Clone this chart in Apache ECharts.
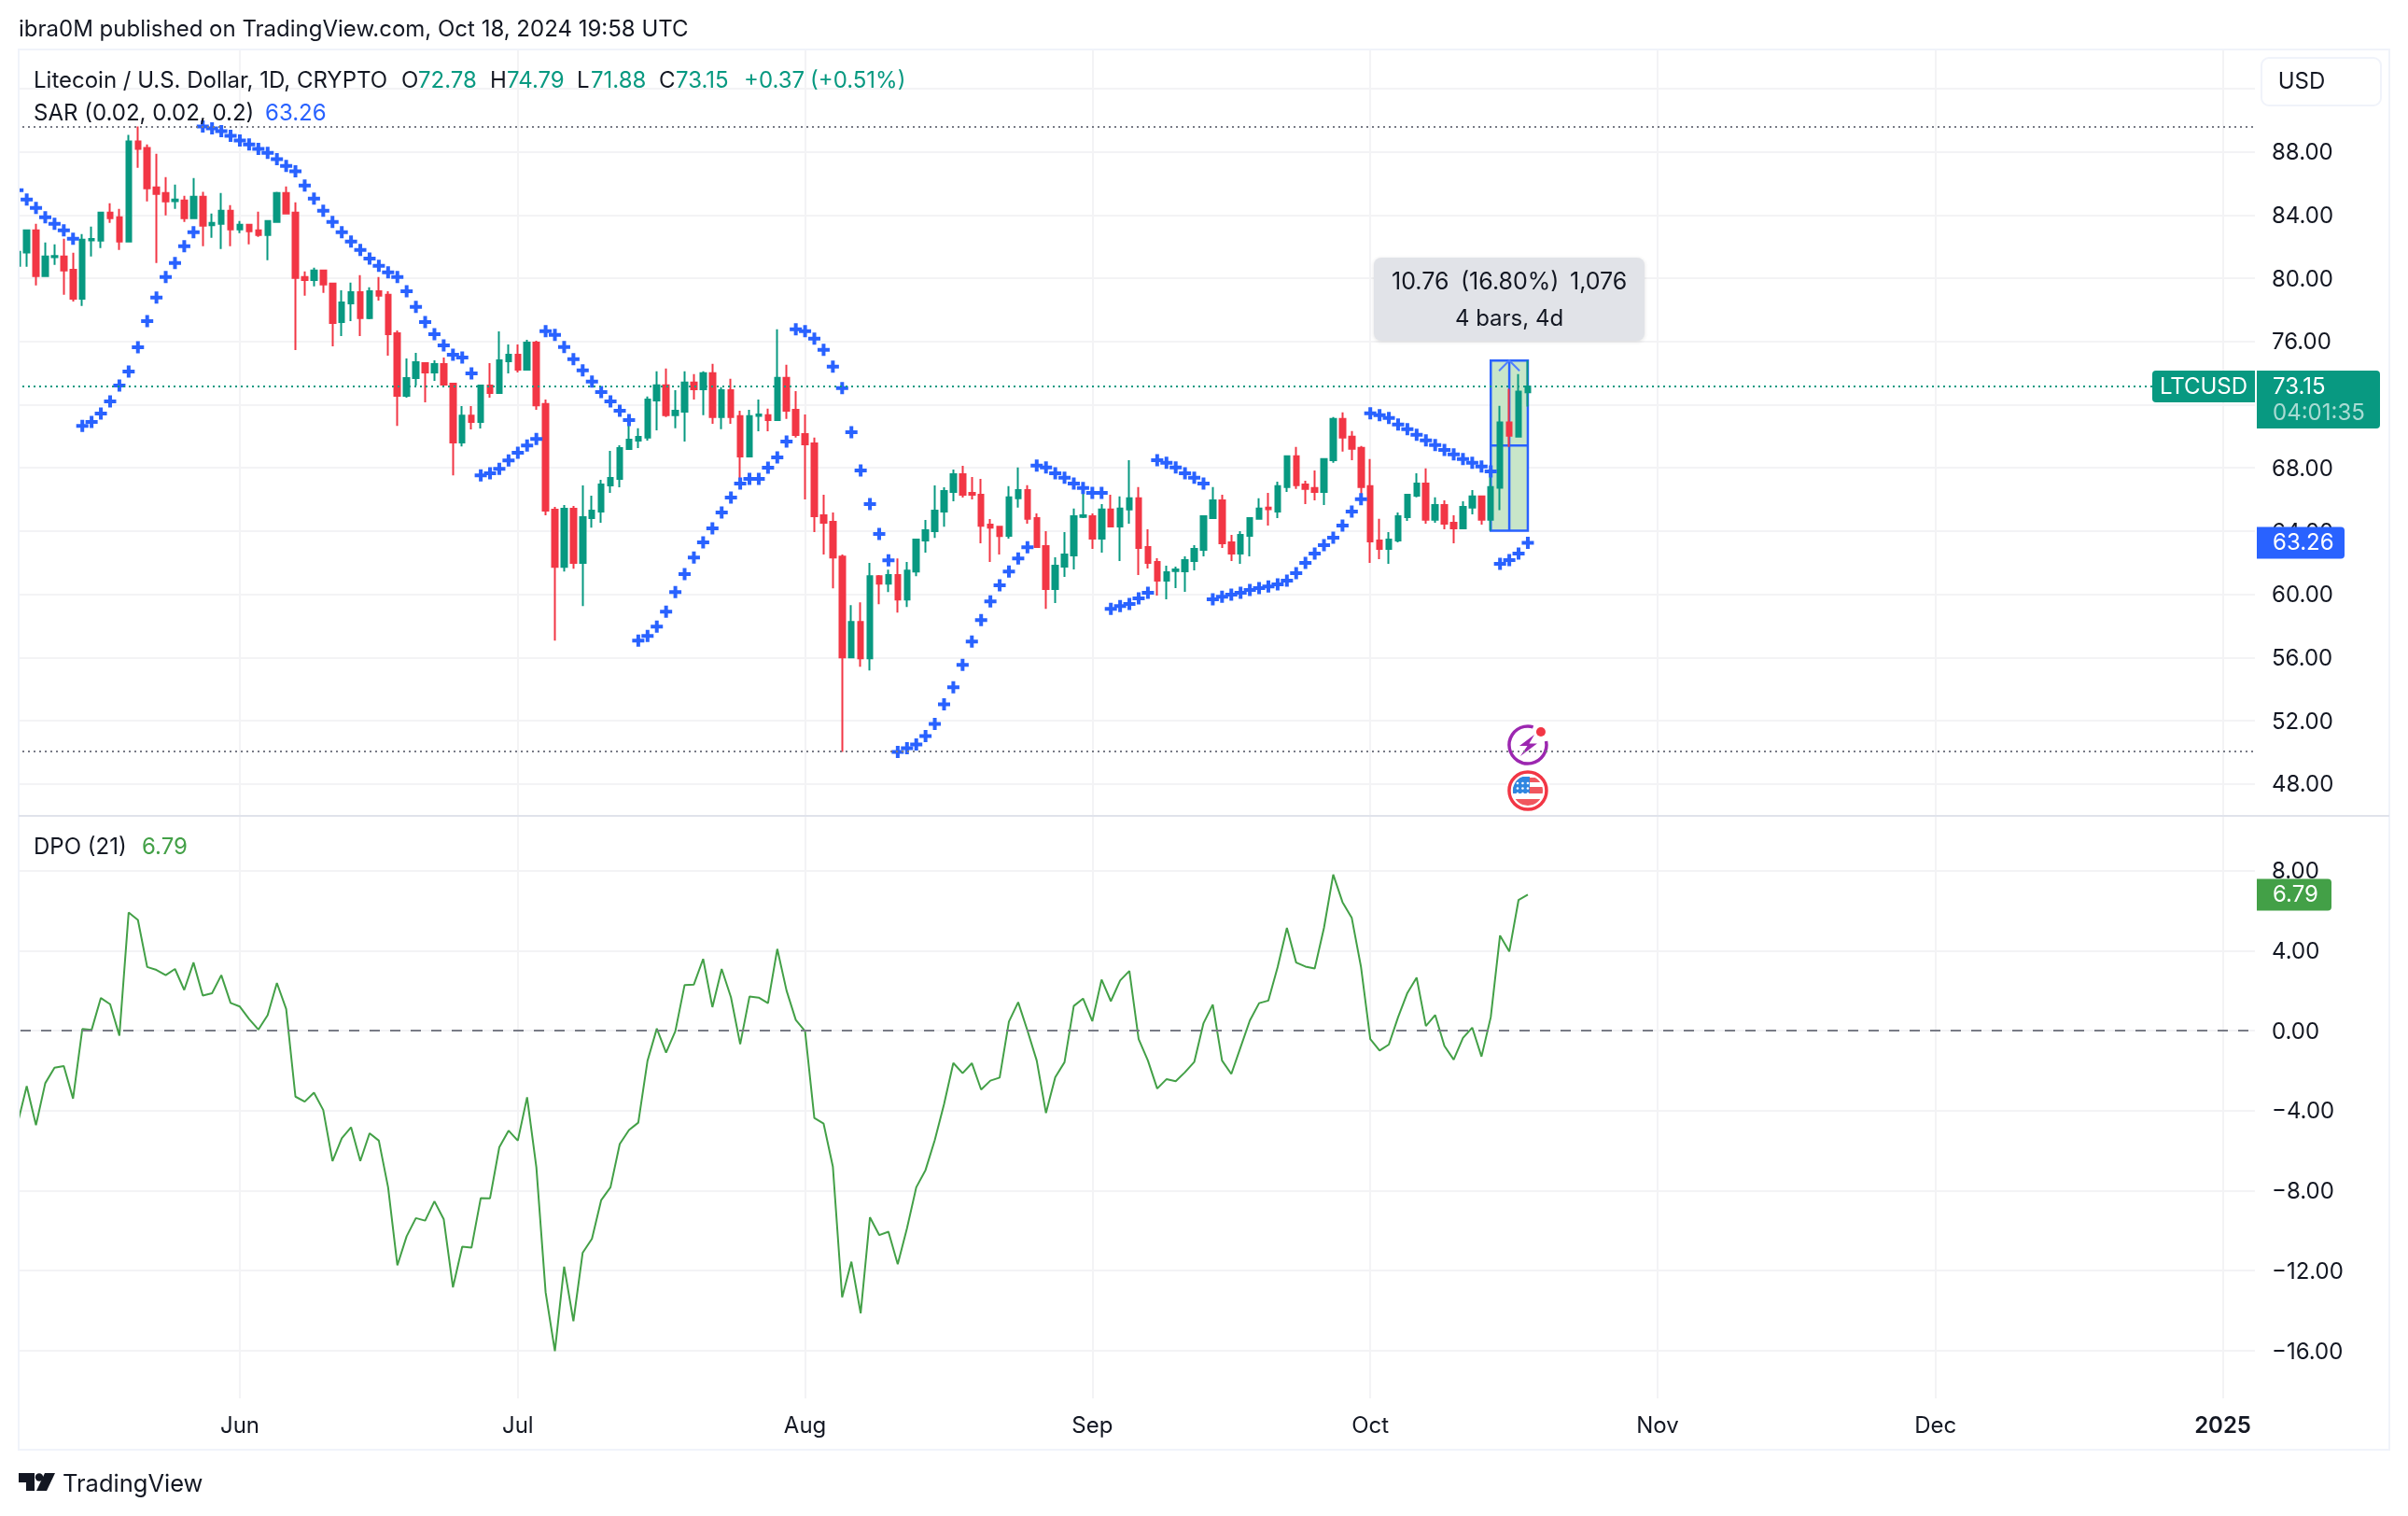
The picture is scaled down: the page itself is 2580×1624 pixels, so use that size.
<!DOCTYPE html>
<html>
<head>
<meta charset="utf-8">
<title>LTCUSD</title>
<script src="https://cdn.jsdelivr.net/npm/echarts@6/dist/echarts.min.js"></script>
<style>
  html, body { margin: 0; padding: 0; background: #fff; }
  #main { width: 2580px; height: 1624px; }
</style>
</head>
<body>
<div id="main"></div>
<script>
// daily bars, index 0 = 2024-05-08, last index 163 = 2024-10-18
const opens = [
  80.78, 81.63, 83.03, 80.13, 81.33, 81.37, 80.54, 78.71, 82.40, 82.38,
  84.15, 83.86, 82.32, 88.65, 88.24, 85.75, 85.40, 84.88, 84.92, 83.80,
  85.16, 83.35, 83.44, 84.27, 83.09, 83.38, 83.03, 82.73, 83.56, 85.40,
  84.15, 80.07, 79.89, 80.49, 79.66, 77.23, 78.41, 79.12, 77.47, 79.18,
  78.95, 76.52, 72.56, 73.68, 74.63, 74.04, 74.57, 73.33, 69.60, 71.31,
  70.90, 73.21, 72.73, 74.75, 75.16, 74.21, 75.93, 72.04, 65.35, 61.74,
  65.41, 61.98, 64.82, 65.23, 66.89, 67.30, 69.19, 69.73, 69.91, 72.27,
  73.22, 71.33, 71.56, 73.40, 72.98, 73.99, 71.21, 72.92, 71.27, 68.72,
  71.29, 71.33, 71.03, 73.69, 71.68, 70.14, 69.55, 65.00, 64.58, 62.39,
  56.00, 58.25, 55.94, 61.15, 60.67, 61.21, 59.67, 61.44, 63.40, 63.99,
  65.23, 66.47, 67.60, 66.41, 66.30, 64.40, 64.28, 63.70, 66.07, 66.60,
  64.82, 63.05, 60.33, 61.75, 62.46, 64.90, 64.94, 63.52, 65.36, 64.29,
  65.36, 66.07, 62.99, 62.04, 60.86, 61.47, 61.45, 62.10, 62.81, 64.82,
  65.95, 63.29, 62.58, 63.70, 64.77, 65.48, 65.24, 66.78, 68.73, 66.95,
  66.72, 66.48, 68.49, 71.10, 69.97, 69.26, 66.84, 63.40, 62.87, 63.40,
  64.88, 66.24, 67.01, 64.71, 65.65, 64.53, 64.17, 65.48, 66.19, 64.71,
  66.74, 70.87, 69.98, 72.78
];
const closes = [
  81.67, 83.03, 80.13, 81.37, 81.41, 80.49, 78.71, 82.44, 82.48, 84.15,
  83.80, 82.32, 88.65, 88.18, 85.69, 85.34, 84.86, 84.98, 83.80, 85.16,
  83.33, 83.50, 84.27, 83.09, 83.38, 82.97, 82.73, 83.62, 85.40, 84.09,
  80.01, 79.89, 80.49, 79.60, 77.17, 78.47, 79.12, 77.47, 79.18, 78.89,
  76.46, 72.56, 73.68, 74.69, 74.04, 74.57, 73.27, 69.60, 71.31, 70.90,
  73.21, 72.73, 74.80, 75.16, 74.21, 75.93, 71.96, 65.29, 61.74, 65.41,
  61.98, 64.88, 65.29, 66.95, 67.36, 69.25, 69.79, 69.96, 72.33, 73.22,
  71.33, 71.62, 73.40, 72.98, 73.99, 71.21, 72.92, 71.21, 68.72, 71.27,
  71.38, 71.03, 73.69, 71.62, 70.08, 69.49, 64.94, 64.52, 62.33, 56.00,
  58.25, 55.94, 61.15, 60.67, 61.21, 59.67, 61.50, 63.46, 64.05, 65.29,
  66.53, 67.60, 66.30, 66.30, 64.34, 64.22, 63.69, 66.13, 66.60, 64.77,
  62.99, 60.33, 61.81, 62.52, 64.94, 65.00, 63.52, 65.36, 64.29, 65.42,
  66.07, 62.93, 61.98, 60.86, 61.39, 61.57, 62.16, 62.87, 64.94, 65.95,
  63.23, 62.58, 63.76, 64.82, 65.42, 65.38, 66.84, 68.73, 66.90, 66.66,
  66.48, 68.55, 71.10, 69.91, 69.20, 66.78, 63.35, 62.87, 63.46, 64.94,
  66.30, 67.01, 64.71, 65.65, 64.47, 64.17, 65.53, 66.19, 64.71, 66.78,
  70.87, 70.04, 72.82, 73.15
];
const lows = [
  80.78, 80.72, 79.54, 80.13, 80.84, 78.95, 78.53, 78.24, 81.37, 81.91,
  83.50, 81.79, 82.32, 86.99, 84.86, 80.96, 83.98, 84.39, 83.56, 83.80,
  82.02, 82.56, 81.85, 82.02, 82.85, 82.14, 82.62, 81.14, 83.50, 84.09,
  75.46, 78.89, 79.48, 79.07, 75.69, 76.34, 77.29, 76.34, 77.41, 78.59,
  75.10, 70.66, 72.44, 73.21, 72.14, 73.50, 73.27, 67.53, 69.36, 70.43,
  70.49, 72.44, 72.73, 73.98, 74.04, 74.21, 71.67, 65.00, 57.07, 61.44,
  61.62, 59.25, 64.22, 64.52, 66.41, 66.77, 69.14, 69.25, 69.73, 70.38,
  71.21, 70.50, 69.67, 72.33, 71.33, 70.79, 70.44, 70.79, 67.24, 68.72,
  70.32, 70.32, 71.03, 71.09, 69.91, 66.00, 63.93, 62.51, 60.38, 50.02,
  56.00, 55.41, 55.17, 59.37, 60.14, 58.84, 59.20, 61.15, 62.63, 63.57,
  64.28, 65.88, 66.12, 66.00, 63.22, 62.04, 62.51, 63.52, 65.48, 64.47,
  62.99, 59.08, 59.44, 61.10, 61.57, 64.82, 62.87, 62.64, 64.29, 62.10,
  64.47, 61.22, 61.63, 59.91, 59.68, 60.39, 60.15, 61.51, 62.40, 64.82,
  62.93, 62.10, 61.93, 62.40, 64.71, 64.35, 64.82, 66.48, 66.66, 65.71,
  65.95, 65.65, 68.32, 69.03, 68.49, 66.30, 61.98, 62.22, 61.93, 63.29,
  64.65, 66.13, 64.47, 64.53, 64.11, 63.23, 64.17, 65.06, 64.41, 64.03,
  65.32, 69.33, 69.93, 71.88
];
const highs = [
  81.70, 83.09, 83.44, 82.26, 82.14, 82.50, 81.61, 82.79, 83.27, 84.21,
  84.75, 84.39, 89.07, 89.60, 88.47, 87.88, 86.40, 85.93, 85.22, 86.34,
  85.46, 84.09, 85.40, 84.63, 83.62, 83.44, 84.21, 83.68, 85.46, 85.81,
  84.80, 80.43, 80.66, 80.49, 79.72, 79.24, 79.72, 80.19, 79.42, 80.07,
  79.18, 76.70, 74.92, 75.28, 74.69, 74.80, 74.98, 73.38, 71.91, 71.91,
  73.27, 74.63, 76.64, 75.81, 75.81, 76.11, 76.05, 72.33, 65.53, 65.65,
  65.59, 66.89, 66.24, 67.24, 69.08, 69.43, 70.73, 70.50, 72.51, 74.11,
  74.28, 72.92, 74.11, 73.93, 74.11, 74.58, 73.10, 73.63, 71.62, 71.68,
  72.33, 71.74, 76.77, 74.52, 72.86, 71.38, 69.91, 66.30, 65.17, 62.51,
  59.31, 59.49, 61.98, 61.21, 61.56, 62.27, 62.04, 63.46, 64.70, 66.89,
  66.77, 67.89, 68.13, 67.42, 67.30, 64.76, 64.34, 66.84, 68.02, 66.90,
  65.12, 64.00, 62.34, 63.94, 65.42, 66.42, 65.12, 65.71, 66.30, 66.19,
  68.49, 66.78, 64.11, 62.28, 61.81, 61.75, 62.40, 63.11, 65.00, 66.78,
  66.30, 63.76, 64.00, 64.88, 66.07, 66.42, 67.13, 68.79, 69.32, 67.19,
  67.84, 68.55, 71.21, 71.51, 70.33, 69.38, 68.55, 64.77, 63.94, 65.18,
  66.36, 67.66, 67.96, 66.13, 65.95, 65.00, 65.89, 66.60, 66.24, 67.78,
  71.93, 73.00, 73.94, 74.79
];
const sarValues = [
  85.57, 84.98, 84.45, 83.86, 83.44, 83.03, 82.50, 70.66, 70.90, 71.43,
  72.20, 73.21, 74.10, 75.63, 77.29, 78.77, 80.07, 80.96, 82.02, 82.91,
  89.60, 89.48, 89.30, 89.01, 88.71, 88.47, 88.18, 87.94, 87.53, 87.11,
  86.76, 85.87, 85.04, 84.27, 83.56, 82.91, 82.32, 81.79, 81.25, 80.78,
  80.37, 80.07, 79.18, 78.18, 77.23, 76.46, 75.75, 75.16, 74.98, 73.98,
  67.53, 67.65, 67.94, 68.47, 68.95, 69.42, 69.83, 76.65, 76.41, 75.64,
  74.88, 74.17, 73.46, 72.80, 72.21, 71.62, 71.03, 57.07, 57.36, 57.95,
  58.90, 60.14, 61.27, 62.33, 63.28, 64.17, 65.17, 66.12, 67.01, 67.30,
  67.30, 68.01, 68.66, 69.67, 76.77, 76.65, 76.18, 75.47, 74.40, 73.04,
  70.26, 67.83, 65.70, 63.81, 62.15, 50.02, 50.26, 50.50, 51.03, 51.80,
  53.04, 54.11, 55.53, 57.01, 58.37, 59.55, 60.56, 61.44, 62.27, 62.98,
  68.14, 68.02, 67.66, 67.37, 67.01, 66.72, 66.42, 66.42, 59.08, 59.26,
  59.38, 59.74, 60.09, 68.49, 68.32, 68.02, 67.66, 67.37, 67.01, 59.68,
  59.85, 59.97, 60.09, 60.27, 60.39, 60.50, 60.62, 60.86, 61.33, 61.98,
  62.58, 63.11, 63.58, 64.35, 65.24, 66.01, 71.45, 71.33, 71.16, 70.74,
  70.45, 70.09, 69.74, 69.44, 69.14, 68.85, 68.55, 68.32, 68.08, 67.78,
  61.93, 62.16, 62.58, 63.26
];
const dpoValues = [
  -4.67, -2.78, -4.72, -2.63, -1.85, -1.77, -3.40, 0.08, 0.03, 1.63,
  1.32, -0.25, 5.90, 5.53, 3.18, 3.03, 2.77, 3.08, 2.03, 3.40,
  1.75, 1.87, 2.77, 1.38, 1.20, 0.58, 0.05, 0.77, 2.38, 1.08,
  -3.30, -3.55, -3.10, -3.97, -6.52, -5.38, -4.83, -6.52, -5.13, -5.50,
  -7.83, -11.73, -10.28, -9.37, -9.50, -8.53, -9.42, -12.83, -10.80, -10.85,
  -8.37, -8.38, -5.83, -5.00, -5.50, -3.33, -6.83, -13.08, -16.02, -11.80,
  -14.52, -11.10, -10.40, -8.47, -7.83, -5.67, -4.97, -4.60, -1.50, 0.10,
  -1.10, -0.03, 2.28, 2.30, 3.58, 1.17, 3.08, 1.67, -0.68, 1.70,
  1.65, 1.37, 4.08, 2.00, 0.53, -0.03, -4.37, -4.65, -6.80, -13.33,
  -11.55, -14.13, -9.33, -10.22, -10.05, -11.67, -9.88, -7.83, -6.97, -5.47,
  -3.67, -1.62, -2.13, -1.63, -2.95, -2.50, -2.35, 0.45, 1.42, 0.00,
  -1.50, -4.12, -2.33, -1.58, 1.23, 1.60, 0.47, 2.55, 1.47, 2.50,
  2.98, -0.43, -1.50, -2.90, -2.43, -2.53, -2.08, -1.57, 0.37, 1.30,
  -1.50, -2.17, -0.83, 0.50, 1.37, 1.50, 3.17, 5.13, 3.40, 3.20,
  3.10, 5.13, 7.80, 6.42, 5.63, 3.17, -0.42, -1.00, -0.70, 0.67,
  1.88, 2.65, 0.23, 0.78, -0.77, -1.45, -0.37, 0.15, -1.30, 0.67,
  4.75, 3.95, 6.53, 6.79
];

const monthTicks = [24, 54, 85, 116, 146, 177, 207, 238];
const monthLabels = ['Jun', 'Jul', 'Aug', 'Sep', 'Oct', 'Nov', 'Dec', '2025'];
const priceGridTicks = [48, 52, 56, 60, 64, 68, 72, 76, 80, 84, 88, 92];
const priceLabelTicks = [48, 52, 56, 60, 64, 68, 72, 76, 80, 84, 88];
const dpoTicks = [-16, -12, -8, -4, 0, 4, 8];

const lastPrice = 73.15;
const lastSar = 63.26;
const lastDpo = 6.79;
const rangeHigh = 89.57;
const rangeLow = 50.05;
// price range tool: first bar, last bar, bottom, top
const measureRange = [159, 163, 64.03, 74.79];

const GREEN = '#089981';
const RED = '#f23645';
const BLUE = '#2962ff';
const DPO_GREEN = '#43a047';
const INK = '#131722';
const GRAY = '#787b86';
const GRID = '#f3f3f5';
const FONT = 'Inter, sans-serif';

const barSeriesData = opens.map((o, i) => [i, o, closes[i], lows[i], highs[i]]);
const sarData = sarValues.map((v, i) => [i, v]);
const dpoData = dpoValues.map((v, i) => [i, v]);

const xRange = { min: -1.884, max: 241.47 };
const money = v => v.toFixed(2).replace('-', '\u2212');

function xAxisFor(gridIndex, withLabels) {
  return {
    type: 'value',
    gridIndex,
    min: xRange.min,
    max: xRange.max,
    axisLine: { show: false },
    axisTick: { show: false, customValues: monthTicks },
    splitLine: { show: true, lineStyle: { color: GRID, width: 2 } },
    axisLabel: {
      show: withLabels,
      customValues: monthTicks,
      margin: 18,
      color: INK,
      fontFamily: FONT,
      fontSize: 24,
      formatter: v => {
        const label = monthLabels[monthTicks.indexOf(v)];
        return label === '2025' ? '{b|2025}' : label;
      },
      rich: { b: { fontFamily: FONT, fontSize: 24, fontWeight: 600, color: INK } }
    }
  };
}

function yAxisFor(gridIndex, min, max, gridTicks, labelTicks) {
  return {
    type: 'value',
    gridIndex,
    position: 'right',
    min,
    max,
    axisLine: { show: false },
    axisTick: { show: false, customValues: gridTicks },
    splitLine: { show: true, lineStyle: { color: GRID, width: 2 } },
    axisLabel: {
      customValues: labelTicks,
      margin: 18,
      formatter: v => '{a|' + money(v) + '}',
      rich: { a: { color: INK, fontFamily: FONT, fontSize: 24, padding: [3, 0, 0, 0] } }
    }
  };
}

function renderMeasure(params, api) {
  const tl = api.coord([api.value(0), api.value(3)]);
  const br = api.coord([api.value(1), api.value(2)]);
  const cx = (tl[0] + br[0]) / 2;
  const cy = (tl[1] + br[1]) / 2;
  const stroke = { stroke: BLUE, lineWidth: 2.5, fill: null };
  return {
    type: 'group',
    children: [
      { type: 'rect', shape: { x: tl[0], y: tl[1], width: br[0] - tl[0], height: br[1] - tl[1] },
        style: { fill: '#c8e6c9', stroke: BLUE, lineWidth: 2.5 } },
      { type: 'line', shape: { x1: tl[0], y1: cy, x2: br[0], y2: cy }, style: stroke },
      { type: 'line', shape: { x1: cx, y1: tl[1], x2: cx, y2: br[1] }, style: stroke },
      { type: 'polyline', shape: { points: [[cx - 11, tl[1] + 11], [cx, tl[1]], [cx + 11, tl[1] + 11]] },
        style: { stroke: '#4f7fff', lineWidth: 2, fill: null } }
    ]
  };
}

const chart = echarts.init(document.getElementById('main'));

chart.setOption({
  animation: false,
  backgroundColor: '#fff',
  grid: [
    { left: 0, top: 52.59, width: 2416, height: 821 },
    { left: 0, top: 874, width: 2416, height: 624 }
  ],
  xAxis: [xAxisFor(0, false), xAxisFor(1, true)],
  yAxis: [
    yAxisFor(0, 46, 94.5, priceGridTicks, priceLabelTicks),
    yAxisFor(1, -18.38, 10.73, dpoTicks, dpoTicks)
  ],
  series: [
    {
      name: 'Measure',
      type: 'custom',
      xAxisIndex: 0,
      yAxisIndex: 0,
      z: 2,
      silent: true,
      clip: false,
      encode: { x: [0, 1], y: [2, 3] },
      data: [measureRange],
      renderItem: renderMeasure
    },
    {
      name: 'LTCUSD',
      type: 'candlestick',
      xAxisIndex: 0,
      yAxisIndex: 0,
      z: 3,
      barWidth: 6,
      clip: false,
      encode: { x: 0, y: [1, 2, 3, 4] },
      itemStyle: {
        color: GREEN,
        color0: RED,
        borderColor: GREEN,
        borderColor0: RED,
        borderWidth: 2
      },
      data: barSeriesData,
      markLine: {
        silent: true,
        symbol: 'none',
        label: { show: false },
        data: [
          { yAxis: lastPrice, lineStyle: { color: GREEN, width: 2, type: [2, 4] } },
          { yAxis: rangeHigh, lineStyle: { color: GRAY, width: 2, type: [2, 4] } },
          { yAxis: rangeLow, lineStyle: { color: GRAY, width: 2, type: [2, 4] } }
        ]
      }
    },
    {
      name: 'SAR',
      type: 'scatter',
      xAxisIndex: 0,
      yAxisIndex: 0,
      z: 4,
      clip: false,
      symbol: 'path://M4.5 0h4v4.5h4.5v4h-4.5v4.5h-4v-4.5h-4.5v-4h4.5z',
      symbolSize: 13,
      itemStyle: { color: BLUE, opacity: 1 },
      data: sarData
    },
    {
      name: 'DPO',
      type: 'line',
      xAxisIndex: 1,
      yAxisIndex: 1,
      z: 3,
      showSymbol: false,
      clip: false,
      lineStyle: { color: DPO_GREEN, width: 2 },
      data: dpoData,
      markLine: {
        silent: true,
        symbol: 'none',
        label: { show: false },
        data: [{ yAxis: 0, lineStyle: { color: GRAY, width: 2, type: [11, 11] } }]
      }
    }
  ]
});

function txt(text, x, y, fill, size, align, weight) {
  return {
    type: 'text',
    z: 110,
    silent: true,
    style: {
      text, x, y: y + 1.5, fill,
      align: align || 'left',
      verticalAlign: 'middle',
      fontFamily: FONT,
      fontSize: size || 24,
      fontWeight: weight || 400
    }
  };
}

function box(x, y, width, height, fill, r) {
  return { type: 'rect', z: 105, silent: true, shape: { x, y, width, height, r: r || 0 }, style: { fill } };
}

// part of a disc of radius r, cut to a rectangle
function discPart(r, x0, x1, y0, y1) {
  const left = [], right = [];
  for (let y = y0; y <= y1; y += 1) {
    const half = Math.sqrt(Math.max(r * r - y * y, 0));
    left.push([Math.max(x0, -half), y]);
    right.unshift([Math.min(x1, half), y]);
  }
  return { type: 'polygon', shape: { points: left.concat(right) } };
}

function eventIcons(x) {
  const purple = '#9c27b0';
  const flagRed = '#f0565e';
  const stars = [];
  [-8, -2.5, 3].forEach(sy => [-11, -5.5, 0].forEach(sx => {
    stars.push({ type: 'circle', shape: { cx: sx, cy: sy, r: 1.3 }, style: { fill: '#fff' } });
  }));
  const paint = (el, fill) => Object.assign(el, { style: { fill } });
  return [
    {
      type: 'group', x, y: 798, z: 106, silent: true,
      children: [
        { type: 'circle', shape: { cx: 0, cy: 0, r: 24 }, style: { fill: '#fff' } },
        { type: 'arc', shape: { cx: 0, cy: 0, r: 20, startAngle: -0.2, endAngle: 5.0, clockwise: true },
          style: { stroke: purple, lineWidth: 3.5, fill: null } },
        { type: 'polygon', shape: { points: [[7, -11], [-9, 1], [-0.5, 1], [-8, 12], [10, -1.5], [1.5, -1.5]] },
          style: { fill: purple } },
        { type: 'circle', shape: { cx: 14, cy: -14, r: 5 }, style: { fill: RED } }
      ]
    },
    {
      type: 'group', x, y: 847, z: 106, silent: true,
      children: [
        { type: 'circle', shape: { cx: 0, cy: 0, r: 24 }, style: { fill: '#fff' } },
        { type: 'circle', shape: { cx: 0, cy: 0, r: 20 }, style: { stroke: RED, lineWidth: 3.5, fill: '#fff' } },
        paint(discPart(16, -16, 16, -14, -9), flagRed),
        paint(discPart(16, -16, 16, -4, 3), flagRed),
        paint(discPart(16, -16, 16, 9, 16), flagRed),
        paint(discPart(16, -16, 2, -15, 3), '#2f86e0')
      ].concat(stars)
    }
  ];
}

const priceY = v => chart.convertToPixel({ yAxisIndex: 0 }, v);
const dpoY = v => chart.convertToPixel({ yAxisIndex: 1 }, v);
const barX = i => chart.convertToPixel({ xAxisIndex: 0 }, i);

const lastY = priceY(lastPrice);
const sarY = priceY(lastSar);
const dpoLabelY = dpoY(lastDpo);

const ohlc = [
  ['O', '72.78', 430, 18],
  ['H', '74.79', 525, 18],
  ['L', '71.88', 618, 15],
  ['C', '73.15', 706, 18]
];

const headerTexts = [];
ohlc.forEach(item => {
  headerTexts.push(txt(item[0], item[2], 85, INK));
  headerTexts.push(txt(item[1], item[2] + item[3], 85, GREEN));
});

chart.setOption({
  graphic: [{
    elements: [
      { type: 'rect', z: 100, silent: true, shape: { x: 0, y: 53, width: 20, height: 1500 }, style: { fill: '#fff' } },
      { type: 'rect', z: 101, silent: true, shape: { x: 20, y: 53, width: 2540, height: 1500 },
        style: { fill: null, stroke: '#f0f3fa', lineWidth: 2 } },
      { type: 'line', z: 101, silent: true, shape: { x1: 20, y1: 874, x2: 2560, y2: 874 },
        style: { stroke: '#e0e3eb', lineWidth: 2 } },

      txt('ibra0M published on TradingView.com, Oct 18, 2024 19:58 UTC', 20, 30.5, INK),
      txt('Litecoin / U.S. Dollar, 1D, CRYPTO', 36, 85, INK),
      txt('+0.37', 797, 85, GREEN),
      txt('(+0.51%)', 868, 85, GREEN),
      txt('SAR (0.02, 0.02, 0.2)', 36, 120, INK),
      txt('63.26', 284, 120, BLUE),
      txt('DPO (21)', 36, 906, INK),
      txt('6.79', 152, 906, DPO_GREEN),

      { type: 'rect', z: 105, silent: true, shape: { x: 2423, y: 62, width: 128, height: 51, r: 8 },
        style: { fill: '#fff', stroke: '#f0f3fa', lineWidth: 2 } },
      txt('USD', 2466, 86, INK, 24, 'center'),

      { type: 'rect', z: 105, silent: true, shape: { x: 1472, y: 276, width: 290, height: 89, r: 8 },
        style: { fill: '#e1e3e8', shadowBlur: 4, shadowColor: 'rgba(0,0,0,0.12)', shadowOffsetY: 1 } },
      txt('10.76', 1491, 301, INK, 25),
      txt('(16.80%)', 1565, 301, INK, 25),
      txt('1,076', 1682, 301, INK, 25),
      txt('4 bars, 4d', 1617, 340, INK, 24, 'center'),

      box(2306, lastY - 17, 110, 34, GREEN, [4, 0, 0, 4]),
      txt('LTCUSD', 2361, lastY - 1, '#fff', 24, 'center'),
      box(2418, lastY - 17, 132, 62, GREEN, [0, 4, 4, 0]),
      txt('73.15', 2435, lastY - 1, '#fff'),
      txt('04:01:35', 2435, lastY + 27, 'rgba(255,255,255,0.65)'),
      box(2418, sarY - 17, 94, 34, BLUE, [0, 4, 4, 0]),
      txt('63.26', 2435, sarY - 1, '#fff'),
      box(2418, dpoLabelY - 17, 80, 34, DPO_GREEN, [0, 4, 4, 0]),
      txt('6.79', 2435, dpoLabelY - 1, '#fff'),

      { type: 'polygon', z: 105, silent: true,
        shape: { points: [[20, 1578], [37, 1578], [37, 1597], [28, 1597], [28, 1588], [20, 1588]] },
        style: { fill: INK } },
      { type: 'circle', z: 105, silent: true, shape: { cx: 42, cy: 1582.5, r: 4.2 }, style: { fill: INK } },
      { type: 'polygon', z: 105, silent: true,
        shape: { points: [[48, 1578], [59, 1578], [50, 1597], [39, 1597]] },
        style: { fill: INK } },
      txt('TradingView', 67, 1588.5, INK, 25.5)
    ].concat(headerTexts, eventIcons(barX(163)))
  }]
});
</script>
</body>
</html>
